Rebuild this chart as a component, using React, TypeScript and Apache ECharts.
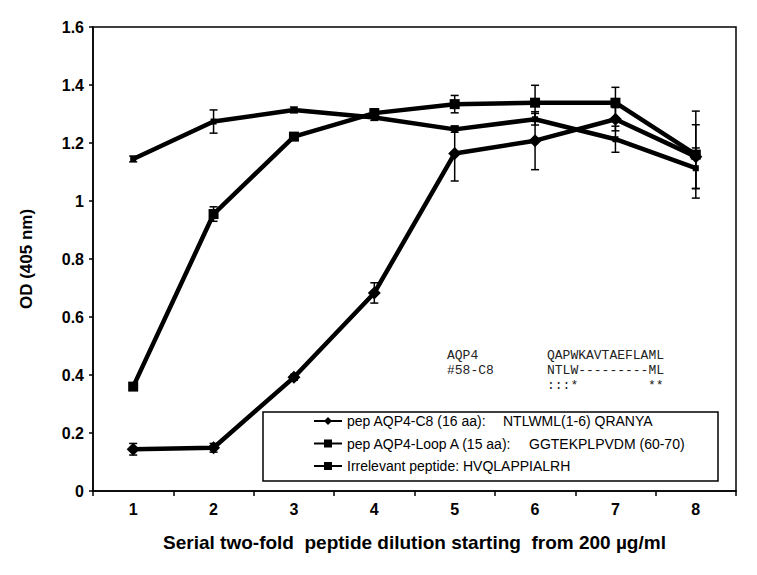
import React, { useEffect, useRef } from "react";
import * as echarts from "echarts";

const categories = ["1", "2", "3", "4", "5", "6", "7", "8"];
const seriesNames = [
  "pep AQP4-C8 (16 aa):",
  "pep AQP4-Loop A (15 aa):",
  "Irrelevant peptide: HVQLAPPIALRH",
];
const sequences = ["NTLWML(1-6) QRANYA", "GGTEKPLPVDM (60-70)", ""];

const c8Values = [0.144, 0.149, 0.392, 0.683, 1.164, 1.208, 1.282, 1.153];
const c8Errors = [0.02, 0.015, 0.01, 0.035, 0.095, 0.1, 0.04, 0.11];
const loopAValues = [0.36, 0.955, 1.222, 1.303, 1.334, 1.339, 1.339, 1.16];
const loopAErrors = [0.01, 0.025, 0.01, 0.015, 0.03, 0.06, 0.053, 0.15];
const irrelevantValues = [1.145, 1.274, 1.314, 1.288, 1.247, 1.282, 1.213, 1.113];
const irrelevantErrors = [0.01, 0.04, 0.01, 0.01, 0.01, 0.02, 0.045, 0.07];

const alignmentNames = ["AQP4", "#58-C8"];
const alignmentSeqs = ["QAPWKAVTAEFLAML", "NTLW---------ML"];
const alignmentMarks = [":::*", "**"];

const FONT = "'Liberation Sans', Arial, sans-serif";

function errorSeries(values: number[], errors: number[], name: string) {
  return {
    type: "custom",
    name,
    z: 1,
    data: values.map((v, i) => [i, v - errors[i], v + errors[i]]),
    encode: { x: 0, y: [1, 2] },
    renderItem: (params: any, api: any) => {
      const x = api.value(0);
      const lo = api.coord([x, api.value(1)]);
      const hi = api.coord([x, api.value(2)]);
      const hw = 4;
      const style = { stroke: "#000", lineWidth: 1.5 };
      return {
        type: "group",
        children: [
          { type: "line", shape: { x1: lo[0], y1: lo[1], x2: hi[0], y2: hi[1] }, style },
          { type: "line", shape: { x1: lo[0] - hw, y1: lo[1], x2: lo[0] + hw, y2: lo[1] }, style },
          { type: "line", shape: { x1: hi[0] - hw, y1: hi[1], x2: hi[0] + hw, y2: hi[1] }, style },
        ],
      };
    },
  };
}

function lineSeries(name: string, values: number[], symbol: string, size: number) {
  return {
    type: "line",
    name,
    data: values,
    symbol,
    symbolSize: size,
    z: 3,
    lineStyle: { color: "#000", width: 4.5 },
    itemStyle: { color: "#000" },
  };
}

export default function App() {
  const ref = useRef<HTMLDivElement>(null);
  useEffect(() => {
    if (!ref.current) return;
    const chart = echarts.init(ref.current, undefined, { renderer: "svg" });
    const monoStyle = { fontFamily: "'Liberation Mono', monospace", fontSize: 13, fill: "#222" };
    chart.setOption({
      animation: false,
      backgroundColor: "#fff",
      grid: {
        left: 93,
        right: 21,
        top: 27,
        bottom: 84,
        show: true,
        borderColor: "#000",
        borderWidth: 1.5,
      },
      xAxis: {
        type: "category",
        data: categories,
        boundaryGap: true,
        axisLine: { lineStyle: { color: "#000", width: 1.5 } },
        axisTick: { show: true, length: 5, lineStyle: { color: "#000", width: 1.5 } },
        axisLabel: { color: "#000", fontFamily: FONT, fontWeight: "bold", fontSize: 16, margin: 10 },
        name: "Serial two-fold  peptide dilution starting  from 200 µg/ml",
        nameLocation: "middle",
        nameGap: 42,
        nameTextStyle: { color: "#000", fontFamily: FONT, fontWeight: "bold", fontSize: 19 },
      },
      yAxis: {
        type: "value",
        min: 0,
        max: 1.6,
        interval: 0.2,
        splitLine: { show: false },
        axisLine: { show: true, lineStyle: { color: "#000", width: 1.5 } },
        axisTick: { show: true, length: 4, lineStyle: { color: "#000", width: 1.5 } },
        axisLabel: { color: "#000", fontFamily: FONT, fontWeight: "bold", fontSize: 16, margin: 9 },
        name: "OD (405 nm)",
        nameLocation: "middle",
        nameGap: 58,
        nameTextStyle: { color: "#000", fontFamily: FONT, fontWeight: "bold", fontSize: 17 },
      },
      legend: {
        data: seriesNames,
        orient: "vertical",
        left: 313,
        top: 413,
        padding: 0,
        itemGap: 6.5,
        itemWidth: 28,
        itemHeight: 10,
        selectedMode: false,
        formatter: (name: string) => {
          const i = seriesNames.indexOf(name);
          return sequences[i] ? `{a${i}|${name}}{s|${sequences[i]}}` : `{s|${name}}`;
        },
        textStyle: {
          color: "#000",
          fontFamily: FONT,
          fontSize: 14,
          lineHeight: 16,
          rich: {
            a0: { width: 156, fontFamily: FONT, fontSize: 14, color: "#000", lineHeight: 16 },
            a1: { width: 182, fontFamily: FONT, fontSize: 14, color: "#000", lineHeight: 16 },
            s: { fontFamily: FONT, fontSize: 14, color: "#000", lineHeight: 16 },
          },
        },
      },
      graphic: [
        {
          type: "rect",
          shape: { x: 263, y: 412, width: 455, height: 69 },
          style: { fill: "#fff", stroke: "#000", lineWidth: 1.5 },
          z: 0,
        },
        ...alignmentNames.map((t, i) => ({
          type: "text",
          left: 447,
          top: 349 + i * 15,
          style: { ...monoStyle, text: t },
        })),
        ...alignmentSeqs.map((t, i) => ({
          type: "text",
          left: 547,
          top: 349 + i * 15,
          style: { ...monoStyle, text: t },
        })),
        { type: "text", left: 547, top: 379, style: { ...monoStyle, text: alignmentMarks[0] } },
        { type: "text", left: 648, top: 379, style: { ...monoStyle, text: alignmentMarks[1] } },
      ],
      series: [
        errorSeries(c8Values, c8Errors, "c8-err"),
        errorSeries(loopAValues, loopAErrors, "loopA-err"),
        errorSeries(irrelevantValues, irrelevantErrors, "irr-err"),
        lineSeries(seriesNames[0], c8Values, "diamond", 13),
        lineSeries(seriesNames[1], loopAValues, "rect", 10),
        lineSeries(seriesNames[2], irrelevantValues, "rect", 6),
      ],
    });
    return () => chart.dispose();
  }, []);
  return (
    <div
      ref={ref}
      style={{ position: "fixed", left: 0, top: 0, width: 757, height: 575, background: "#fff" }}
    />
  );
}
